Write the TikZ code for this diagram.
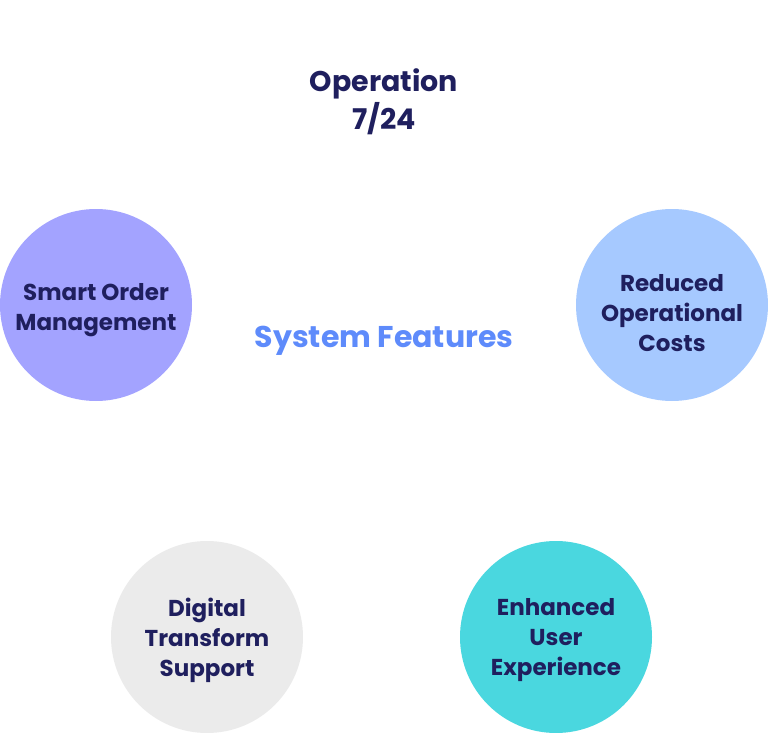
\documentclass[tikz,border=0pt]{standalone}
\usepackage{fontspec}
\setmainfont{Poppins}
\usetikzlibrary{positioning}
\definecolor{cnavy}{HTML}{1F1F5E}
\definecolor{cblue}{HTML}{5E8BFB}
\definecolor{clav}{HTML}{A3A3FF}
\definecolor{csky}{HTML}{A6C9FF}
\definecolor{cgrey}{HTML}{EBEBEB}
\definecolor{cteal}{HTML}{4AD7DF}
\tikzset{
  every picture/.style={x=1pt, y=-1pt},
  feature/.style={circle, fill=#1, minimum size=192pt, inner sep=0pt},
  ftext/.style={align=center, text=cnavy, font=\fontsize{23}{30}\selectfont\bfseries},
  hub/.style={font=\fontsize{30}{36}\selectfont\bfseries, text=cblue},
  headline/.style={font=\fontsize{28.5}{38}\selectfont\bfseries, text=cnavy, align=center},
}
\begin{document}
\begin{tikzpicture}
  \useasboundingbox (0,0) rectangle (768,733);
  % centre and top
  \node[hub] (sys) at (384,341) {System Features};
  \node[headline] (op) at (384,102) {Operation\\7/24};
  % four feature circles
  \node[feature=clav] (smart) at (96,305) {};
  \node[feature=csky] (costs) at (672,305) {};
  \node[feature=cgrey] (digital) at (207,637) {};
  \node[feature=cteal] (user) at (556,637) {};
  \node[ftext] (smart-t) at ([yshift=-5pt]smart) {Smart Order\\Management};
  \node[ftext] (costs-t) at ([yshift=-8pt]costs) {Reduced\\Operational\\Costs};
  \node[ftext] (digital-t) at ([yshift=-3pt]digital) {Digital\\Transform\\Support};
  \node[ftext] (user-t) at ([yshift=-3pt]user) {Enhanced\\User\\Experience};
\end{tikzpicture}
\end{document}
